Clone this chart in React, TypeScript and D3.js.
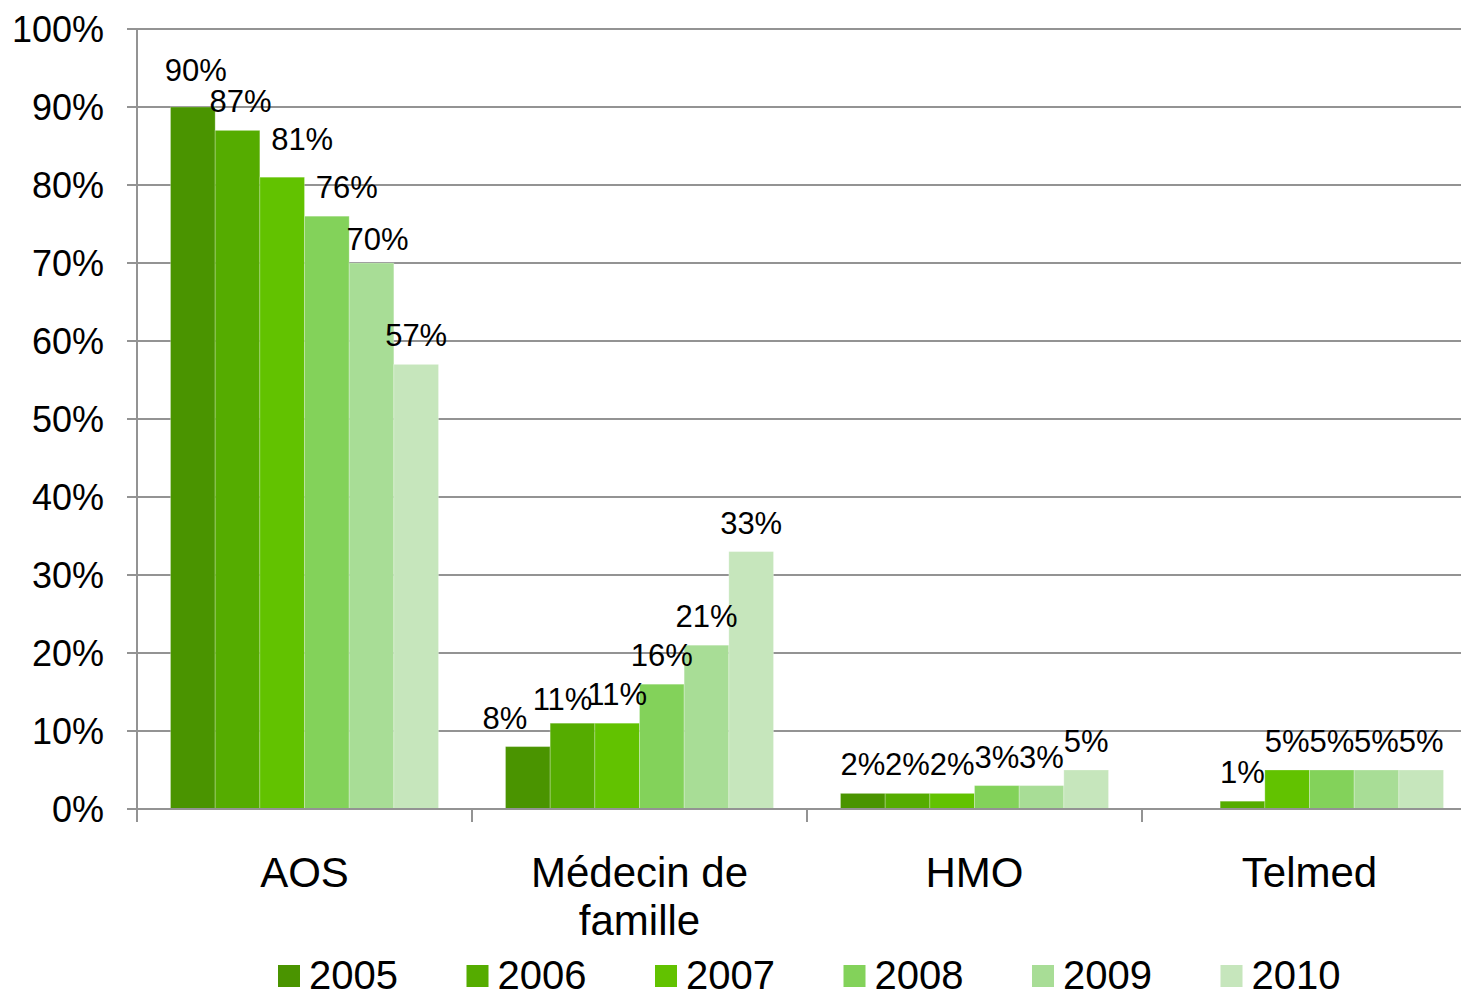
import React from "react";
import * as d3 from "d3";

const categories = ["AOS", "Médecin de\nfamille", "HMO", "Telmed"];
const years = ["2005", "2006", "2007", "2008", "2009", "2010"];
const s2005: (number | null)[] = [90, 8, 2, null];
const s2006: (number | null)[] = [87, 11, 2, 1];
const s2007: (number | null)[] = [81, 11, 2, 5];
const s2008: (number | null)[] = [76, 16, 3, 5];
const s2009: (number | null)[] = [70, 21, 3, 5];
const s2010: (number | null)[] = [57, 33, 5, 5];
const yTicks = [0, 10, 20, 30, 40, 50, 60, 70, 80, 90, 100];

const seriesValues = [s2005, s2006, s2007, s2008, s2009, s2010];
const colors = ["#4A9400", "#55AC00", "#62C200", "#83D25A", "#A8DD96", "#C6E6BC"];

// layout nudges for individual value labels (as placed in the original)
const labelNudge: Record<string, [number, number]> = {
  "0|0": [3, -8],
  "0|1": [3, 0],
  "0|2": [20, -9],
  "0|3": [20, 0],
  "0|4": [6, 5],
  "1|0": [-23, 0],
  "1|1": [-10, 5],
};

const FONT = "'Liberation Sans', Arial, Helvetica, sans-serif";
const W = 1461;
const H = 998;
const left = 137;
const bandW = 335;
const top = 29;
const bottom = 809;
const gridColor = "#939393";

export default function App() {
  const x = d3
    .scaleBand<string>()
    .domain(categories)
    .range([left, left + bandW * categories.length])
    .paddingInner(0)
    .paddingOuter(0);
  const bw = x.bandwidth();
  const x1 = d3
    .scaleBand<string>()
    .domain(years)
    .range([bw * 0.1, bw * 0.9])
    .padding(0);
  const y = d3.scaleLinear().domain([0, 100]).range([bottom, top]);

  const legendX = d3.scaleLinear().domain([0, 5]).range([278, 278 + 5 * 188.5]);

  return (
    <svg
      width={W}
      height={H}
      style={{ position: "absolute", left: 0, top: 0, background: "#fff" }}
      fontFamily={FONT}
    >
      {yTicks.map((t) => (
        <line
          key={"g" + t}
          x1={left - 10}
          x2={W}
          y1={y(t)}
          y2={y(t)}
          stroke={gridColor}
          strokeWidth={2}
        />
      ))}
      {yTicks.map((t) => (
        <text
          key={"yt" + t}
          x={104}
          y={y(t)}
          dy="0.36em"
          textAnchor="end"
          fontSize={36}
          fill="#000"
        >
          {t + "%"}
        </text>
      ))}
      {seriesValues.map((vals, si) =>
        vals.map((v, ci) =>
          v == null ? null : (
            <rect
              key={`b${si}-${ci}`}
              x={(x(categories[ci]) as number) + (x1(years[si]) as number)}
              y={y(v)}
              width={x1.bandwidth()}
              height={y(0) - y(v)}
              fill={colors[si]}
              stroke="rgba(255,255,255,0.25)"
              strokeWidth={1}
            />
          )
        )
      )}
      <line x1={left} x2={left} y1={top} y2={bottom + 13} stroke={gridColor} strokeWidth={2} />
      <line x1={left} x2={W} y1={bottom} y2={bottom} stroke={gridColor} strokeWidth={2} />
      {categories.map((c, i) => (
        <line
          key={"xt" + i}
          x1={x(c) as number}
          x2={x(c) as number}
          y1={bottom}
          y2={bottom + 13}
          stroke={gridColor}
          strokeWidth={2}
        />
      ))}
      {seriesValues.map((vals, si) =>
        vals.map((v, ci) => {
          if (v == null) return null;
          const n = labelNudge[`${ci}|${si}`] || [0, 0];
          const cx = (x(categories[ci]) as number) + (x1(years[si]) as number) + x1.bandwidth() / 2;
          return (
            <text
              key={`l${si}-${ci}`}
              x={cx + n[0]}
              y={y(v) - 18 + n[1]}
              textAnchor="middle"
              fontSize={31}
              fill="#000"
            >
              {v + "%"}
            </text>
          );
        })
      )}
      {categories.map((c, i) => {
        const lines = c.split("\n");
        const cx = (x(c) as number) + bw / 2;
        return (
          <text key={"c" + i} x={cx} y={887} textAnchor="middle" fontSize={42} fill="#000">
            {lines.map((ln, li) => (
              <tspan key={li} x={cx} dy={li === 0 ? 0 : 48}>
                {ln}
              </tspan>
            ))}
          </text>
        );
      })}
      {years.map((yr, i) => (
        <g key={"lg" + yr} transform={`translate(${legendX(i)},0)`}>
          <rect x={0} y={965} width={22} height={22} fill={colors[i]} />
          <text x={31} y={989} fontSize={40} fill="#000">
            {yr}
          </text>
        </g>
      ))}
    </svg>
  );
}
